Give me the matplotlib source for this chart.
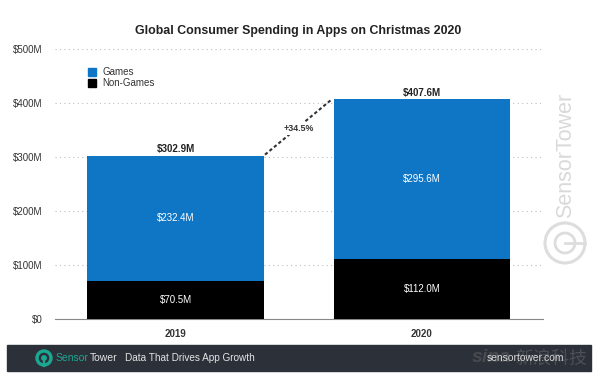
import matplotlib
matplotlib.use("Agg")
import matplotlib.pyplot as plt
from matplotlib.patches import Rectangle, Circle

plt.rcParams['font.family'] = ['Liberation Sans', 'Noto Sans CJK SC', 'DejaVu Sans']

years = ['2019', '2020']
non_games = [70.5, 112.0]
games = [232.4, 295.6]
totals = [302.9, 407.6]
game_labels = ['$232.4M', '$295.6M']
non_game_labels = ['$70.5M', '$112.0M']
total_labels = ['$302.9M', '$407.6M']
yticks = [0, 100, 200, 300, 400, 500]
ytick_labels = ['$0', '$100M', '$200M', '$300M', '$400M', '$500M']
growth_label = '+34.5%'

W, H = 600, 380
blue = '#0F76C6'
text_col = '#333333'
teal = '#1BA893'

fig = plt.figure(figsize=(6, 3.8), dpi=100)
# axes placed in pixels: x 55-543, y 49.5-319 from top
ax = fig.add_axes([55 / W, 1 - 319 / H, (543 - 55) / W, (319 - 49.5) / H])
ax.set_xlim(-0.489, 1.491)
ax.set_ylim(0, 500)

bar_w = 0.718
x = [0, 1]
ax.bar(x, non_games, width=bar_w, color='black', zorder=3)
ax.bar(x, games, width=bar_w, bottom=non_games, color=blue, zorder=3)

for i in x:
    ax.text(i, non_games[i] / 2, non_game_labels[i], color='white', fontsize=7,
            ha='center', va='center', zorder=4)
    ax.text(i, non_games[i] + games[i] / 2, game_labels[i], color='white', fontsize=7,
            ha='center', va='center', zorder=4)
    ax.text(i, totals[i] + 3, total_labels[i], color='#222222', fontsize=7,
            fontweight='bold', ha='center', va='bottom', zorder=4)

# growth connector between the two bars, label sits on it with a white gap
ax.plot([bar_w / 2 + 0.004, 1 - bar_w / 2 - 0.012], [totals[0] + 2, totals[1] - 2], color='#333333',
        lw=1.5, ls=(0, (1.6, 1.2)), zorder=4)
ax.text(0.5, 354, growth_label, color='#333333', fontsize=6.4, fontweight='bold',
        ha='center', va='center', zorder=5,
        bbox=dict(facecolor='white', edgecolor='none', pad=1.5))

ax.set_yticks(yticks)
ax.set_yticklabels(ytick_labels, fontsize=7, color=text_col)
ax.set_xticks(x)
ax.set_xticklabels(years, fontsize=7, fontweight='bold', color=text_col)
ax.tick_params(axis='both', length=0)
ax.tick_params(axis='y', pad=9)
ax.tick_params(axis='x', pad=7)
ax.grid(axis='y', color='#BDBDBD', lw=0.8, ls=(0, (1, 3)), zorder=0)
ax.set_axisbelow(True)
for s in ['top', 'right', 'left']:
    ax.spines[s].set_visible(False)
ax.spines['bottom'].set_color('#888888')
ax.spines['bottom'].set_linewidth(0.8)

fig.text(298.5 / W, 1 - 31 / H, 'Global Consumer Spending in Apps on Christmas 2020',
         fontsize=8.9, fontweight='bold', color='#222222', ha='center', va='center')

# legend
fig.patches.append(Rectangle((88 / W, 1 - 76 / H), 8 / W, 8 / H, color=blue, transform=fig.transFigure))
fig.patches.append(Rectangle((88 / W, 1 - 87 / H), 8 / W, 8 / H, color='black', transform=fig.transFigure))
fig.text(102 / W, 1 - 72 / H, 'Games', fontsize=7, color=text_col, va='center')
fig.text(102 / W, 1 - 83 / H, 'Non-Games', fontsize=7, color=text_col, va='center')

# SensorTower watermark on the right
fig.text(566 / W, 1 - 155 / H, 'SensorTower', fontsize=15.5, color='#D9D9D9',
         rotation=90, ha='center', va='center', zorder=1)
overlay = fig.add_axes([0, 0, 1, 1], zorder=5)
overlay.set_xlim(0, W)
overlay.set_ylim(H, 0)
overlay.axis('off')
overlay.add_patch(Circle((565, 243), 20, fill=False, ec='#DDDDDD', lw=2.2))
overlay.add_patch(Circle((565, 243), 10, fill=False, ec='#DDDDDD', lw=2))
overlay.plot([565, 585], [243, 243], color='#DDDDDD', lw=2)

# footer band
overlay.add_patch(Rectangle((6.5, 345), 584, 25.5, color='#2C3039'))
overlay.add_patch(Circle((44, 358), 7, fill=False, ec=teal, lw=2.4))
overlay.add_patch(Circle((44, 358), 2.2, color=teal))
overlay.plot([44, 44], [358, 366], color=teal, lw=1.6)
overlay.text(56, 358, 'Sensor', fontsize=7.5, color=teal, va='center')
overlay.text(89.5, 358, 'Tower', fontsize=7.5, color='#E4E4E4', va='center')
overlay.text(125, 358, 'Data That Drives App Growth', fontsize=7.2, color='#E4E4E4', va='center')
# sina stamp goes under the url
overlay.text(472, 358, 'sina', fontsize=14, color='#6A6A6A', alpha=0.45, style='italic',
             fontweight='bold', va='center')
overlay.text(515, 359, '新浪科技', fontsize=13, color='#8A8A8A', alpha=0.35, style='italic', va='center')
overlay.text(487, 358, 'sensortower.com', fontsize=7.4, color='#D8D8D8', va='center', ha='left')

fig.savefig('out.png', dpi=100)
